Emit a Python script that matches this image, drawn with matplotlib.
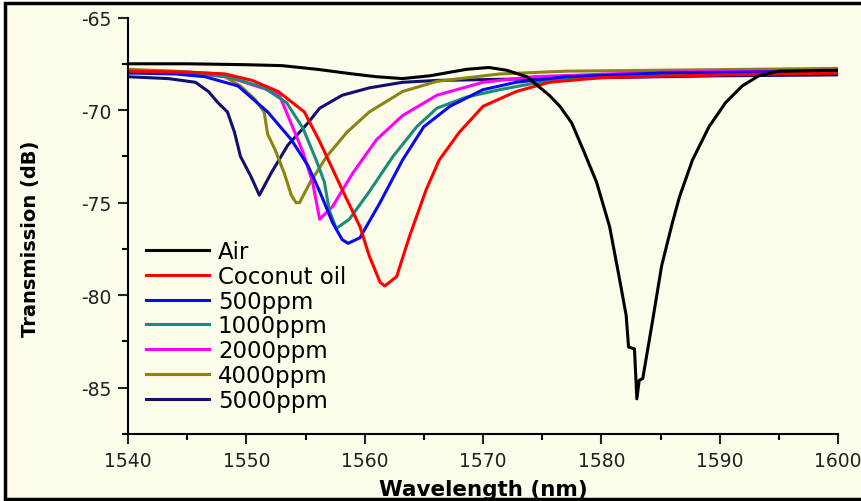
import numpy as np
import matplotlib
matplotlib.use("Agg")
import matplotlib.pyplot as plt
from matplotlib.patches import Rectangle
from matplotlib.ticker import MultipleLocator

plt.rcParams["font.family"] = ["DejaVu Sans"]
plt.rcParams["axes.unicode_minus"] = False

# transmission spectra (wavelength nm, transmission dB)
air_nm = [1540, 1545, 1550, 1553, 1556, 1559, 1561, 1563.2, 1565.5, 1568.6,
          1570.5, 1572, 1573.7, 1575.6, 1576.5, 1577.5, 1578.5, 1579.6, 1580.7,
          1581.5, 1582.1, 1582.3, 1582.8, 1583.0, 1583.2, 1583.5, 1584.3, 1585.1,
          1586.0, 1586.6, 1587.7, 1589.1, 1590.5, 1591.9, 1593.3, 1595, 1600]
air_db = [-67.5, -67.5, -67.55, -67.6, -67.8, -68.05, -68.2, -68.3, -68.15, -67.8,
          -67.7, -67.85, -68.2, -69.2, -69.8, -70.7, -72.2, -73.9, -76.3,
          -79.0, -81.1, -82.8, -82.9, -85.6, -84.6, -84.5, -81.5, -78.4,
          -76.1, -74.7, -72.7, -70.9, -69.6, -68.7, -68.15, -67.9, -67.85]

oil_nm = [1540, 1545, 1548.2, 1550.5, 1552.7, 1554.9, 1556.2, 1558.1, 1559.6,
          1560.4, 1561.3, 1561.7, 1562.7, 1563.8, 1565.2, 1566.3, 1568.0,
          1570.0, 1572.8, 1575.6, 1580, 1590, 1600]
oil_db = [-67.9, -67.95, -68.05, -68.4, -69.0, -70.1, -71.7, -74.3, -76.3,
          -77.9, -79.3, -79.5, -79.0, -76.8, -74.3, -72.7, -71.2,
          -69.8, -69.0, -68.5, -68.25, -68.1, -68.0]

p500_nm = [1540, 1544, 1546.5, 1549.3, 1551.8, 1553.8, 1555.2, 1556.2, 1557.3,
           1558.1, 1558.6, 1559.6, 1561.3, 1563.2, 1565.0, 1567.2, 1570.0,
           1572.8, 1577.0, 1585, 1600]
p500_db = [-68.0, -68.05, -68.2, -68.7, -70.1, -71.6, -73.0, -74.4, -76.1,
           -77.0, -77.2, -76.9, -75.0, -72.7, -70.9, -69.8, -68.9,
           -68.5, -68.2, -68.0, -67.9]

p1000_nm = [1540, 1545, 1548.5, 1551.5, 1553.4, 1554.8, 1555.9, 1556.6, 1557.0,
            1557.6, 1558.7, 1560.4, 1562.4, 1564.4, 1566.1, 1568.6, 1571.4,
            1575.6, 1580, 1590, 1600]
p1000_db = [-67.95, -68.0, -68.2, -68.8, -69.6, -71.0, -72.7, -73.9, -75.4,
            -76.4, -75.9, -74.4, -72.5, -70.9, -69.9, -69.3, -68.9,
            -68.4, -68.2, -68.05, -67.95]

p2000_nm = [1540, 1545, 1548.4, 1551.8, 1552.8, 1553.9, 1554.8, 1555.6, 1556.2,
            1557.3, 1559.0, 1561.0, 1563.2, 1566.1, 1570.0, 1574.2, 1585, 1600]
p2000_db = [-67.95, -68.0, -68.2, -68.9, -69.2, -70.9, -72.3, -73.9, -75.9,
            -75.2, -73.4, -71.6, -70.3, -69.2, -68.5, -68.2, -67.95, -67.85]

p4000_nm = [1540, 1544, 1547.8, 1549.5, 1550.7, 1551.5, 1551.8, 1552.4, 1553.2,
            1553.8, 1554.2, 1554.5, 1555.4, 1556.8, 1558.5, 1560.4, 1563.2,
            1566.1, 1571.4, 1577.0, 1600]
p4000_db = [-67.8, -67.9, -68.05, -68.7, -69.4, -70.1, -71.3, -72.1, -73.4,
            -74.6, -75.0, -75.0, -73.9, -72.5, -71.2, -70.1, -69.0,
            -68.45, -68.05, -67.9, -67.75]

p5000_nm = [1540, 1543.4, 1545.7, 1546.8, 1547.6, 1548.4, 1549.0, 1549.5, 1550.4,
            1551.1, 1552.1, 1553.5, 1555.2, 1556.2, 1558.1, 1560.4, 1563.2,
            1566.1, 1575, 1590, 1600]
p5000_db = [-68.2, -68.3, -68.5, -69.0, -69.6, -70.1, -71.2, -72.5, -73.6,
            -74.6, -73.4, -71.9, -70.7, -69.9, -69.2, -68.8, -68.5,
            -68.4, -68.3, -68.15, -68.1]

labels = ["Air", "Coconut oil", "500ppm", "1000ppm", "2000ppm", "4000ppm", "5000ppm"]
colors = ["#000000", "#ff0000", "#0a0aee", "#1a8c7a", "#ff00ff", "#8a8412", "#10106e"]
series = [(air_nm, air_db), (oil_nm, oil_db), (p500_nm, p500_db),
          (p1000_nm, p1000_db), (p2000_nm, p2000_db), (p4000_nm, p4000_db),
          (p5000_nm, p5000_db)]

cream = "#fdfbea"
fig = plt.figure(figsize=(8.62, 5.02), dpi=100, facecolor="white")
# framed panel behind the plot (right edge runs off the figure)
fig.patches.append(Rectangle((5 / 862, 2 / 502), 870 / 862, 496 / 502,
                             transform=fig.transFigure, facecolor=cream,
                             edgecolor="black", linewidth=2.5, zorder=-5))

ax = fig.add_axes([128 / 862, 1 - 435 / 502, 710 / 862, 416.5 / 502])
ax.set_facecolor(cream)

# draw so that Air ends up on top
for (xs, ys), lab, col in list(zip(series, labels, colors))[::-1]:
    ax.plot(xs, ys, color=col, lw=2.2, label=lab)

ax.set_xlim(1540, 1600)
ax.set_ylim(-87.5, -65)
ax.xaxis.set_major_locator(MultipleLocator(10))
ax.xaxis.set_minor_locator(MultipleLocator(5))
ax.yaxis.set_major_locator(MultipleLocator(5))
ax.yaxis.set_minor_locator(MultipleLocator(2.5))
ax.set_yticks([-85, -80, -75, -70, -65])

for side in ["top", "right"]:
    ax.spines[side].set_visible(False)
for side in ["left", "bottom"]:
    ax.spines[side].set_linewidth(1.5)

ax.tick_params(which="major", direction="out", length=7, width=1.5,
               labelsize=13.5, pad=5, colors="#222222")
ax.tick_params(which="minor", direction="out", length=4, width=1.5)

ax.set_xlabel("Wavelength (nm)", fontsize=15.5, fontweight="bold", labelpad=7)
ax.set_ylabel("Transmission (dB)", fontsize=14, fontweight="bold")
ax.yaxis.set_label_coords(-0.124, 0.47)

handles, labs = ax.get_legend_handles_labels()
order = [labs.index(l) for l in labels]
ax.legend([handles[i] for i in order], labels, loc="upper left",
          bbox_to_anchor=(0.025, 0.465), frameon=False, fontsize=16.5,
          handlelength=2.75, handletextpad=0.4, labelspacing=0.075,
          borderpad=0, borderaxespad=0)

fig.savefig("out.png", dpi=100, facecolor=fig.get_facecolor())
